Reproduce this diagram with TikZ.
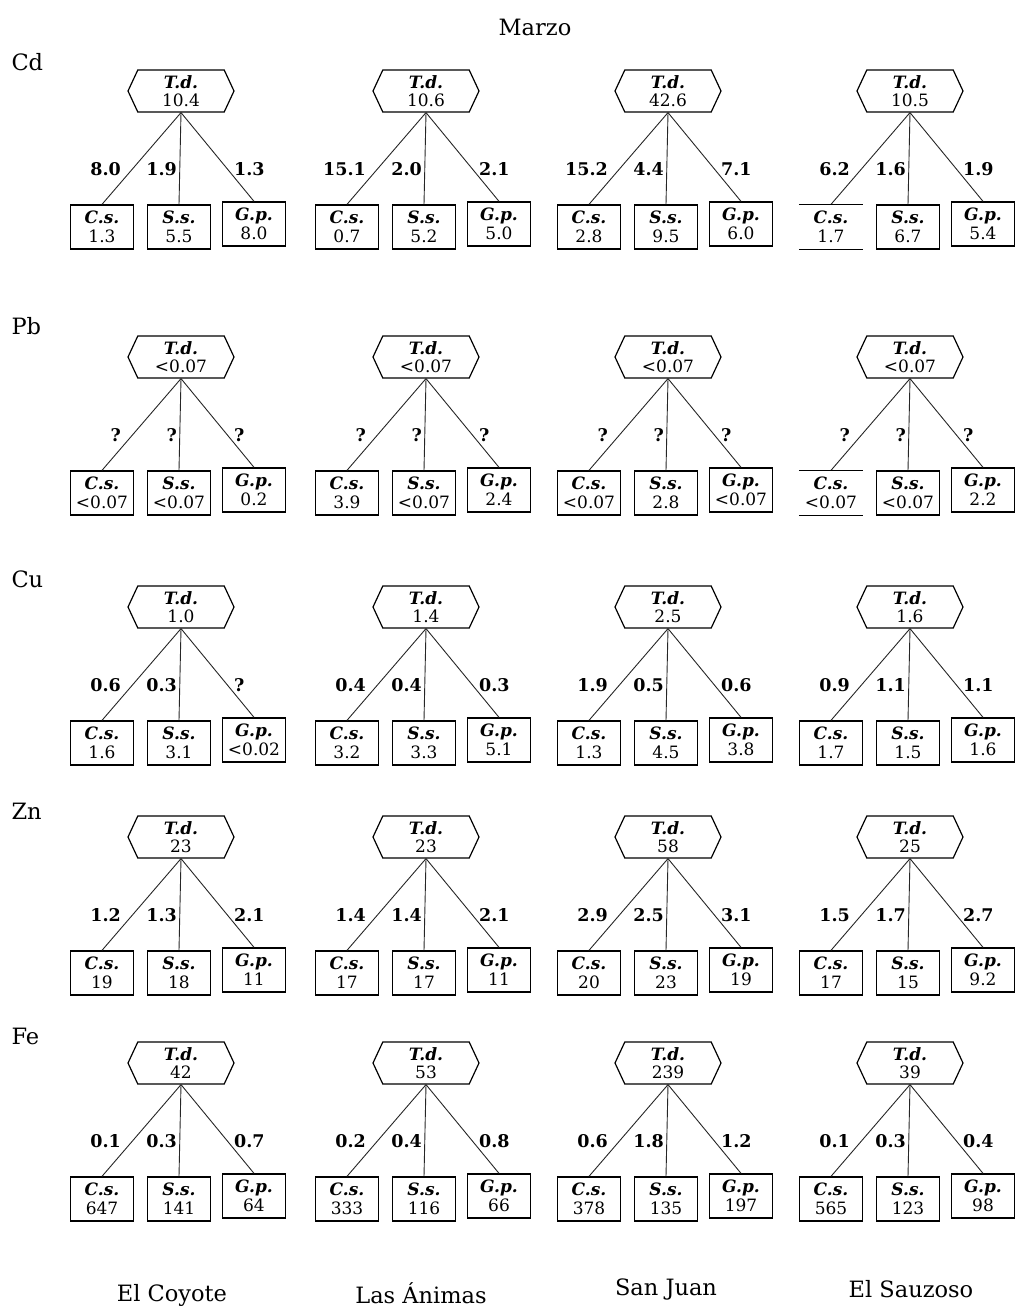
\documentclass[tikz,border=0pt]{standalone}
\usepackage{fontspec}
\setmainfont{DejaVu Serif}
\usetikzlibrary{shapes.symbols}
\tikzset{
  hexa/.style={signal, signal to=west and east, signal pointer angle=130, draw, line width=1.2pt,
    minimum width=106pt, minimum height=42pt, inner sep=0pt, align=center,
    font=\fontsize{17}{18.5}\selectfont},
  cbox/.style={draw, rectangle, line width=1.3pt, minimum width=63pt, minimum height=44pt,
    inner sep=0pt, align=center, font=\fontsize{17}{19}\selectfont},
  csbox/.style={cbox},
  conn/.style={draw=black!85, line width=0.9pt},
  elab/.style={inner sep=0pt, font=\bfseries\fontsize{17.5}{19}\selectfont},
  big/.style={font=\fontsize{22.5}{26}\selectfont},
  boxline/.style={line width=1.3pt},
}
\newcommand\lbl[1]{\textbf{\textit{#1}}}
\newcommand\mkcell[9]{%
  \begin{scope}[shift={(#2)}]
    \node[hexa] (#1-td) at (0,0) {\lbl{T.d.}\\#3};
    \node[csbox] (#1-cs) at (-79,136) {\lbl{C.s.}\\#4};
    \node[cbox] (#1-ss) at (-2,136) {\lbl{S.s.}\\#5};
    \node[cbox] (#1-gp) at (73,133) {\lbl{G.p.}\\#6};
    \draw[conn] (#1-td.south) -- (#1-cs.north);
    \draw[conn] (#1-td.south) -- (#1-ss.north);
    \draw[conn] (#1-td.south) -- (#1-gp.north);
    \node[elab, anchor=east] (#1-la) at (-60,78) {#7};
    \node[elab, anchor=east] (#1-lb) at (-4,78) {#8};
    \node[elab, anchor=west] (#1-lc) at (53,78) {#9};
  \end{scope}}
\begin{document}
\begin{tikzpicture}[x=1pt,y=-1pt]
\useasboundingbox (0,0) rectangle (1016,1307);
\node[big] (title) at (535,27) {Marzo};
\node[big, anchor=west] (rCd) at (8,62) {Cd};
\node[big, anchor=west] (rPb) at (8,326) {Pb};
\node[big, anchor=west] (rCu) at (8,579) {Cu};
\node[big, anchor=west] (rZn) at (8,811) {Zn};
\node[big, anchor=west] (rFe) at (8,1036) {Fe};

% Cd
\mkcell{CdA}{181,91}{10.4}{1.3}{5.5}{8.0}{8.0}{1.9}{1.3}
\mkcell{CdB}{426,91}{10.6}{0.7}{5.2}{5.0}{15.1}{2.0}{2.1}
\mkcell{CdC}{668,91}{42.6}{2.8}{9.5}{6.0}{15.2}{4.4}{7.1}
\begin{scope}[csbox/.style={cbox, draw=none}]
\mkcell{CdD}{910,91}{10.5}{1.7}{6.7}{5.4}{6.2}{1.6}{1.9}
\end{scope}
\draw[boxline] (CdD-cs.north west) -- (CdD-cs.north east);
\draw[boxline] (CdD-cs.south west) -- (CdD-cs.south east);

% Pb
\mkcell{PbA}{181,357}{<0.07}{<0.07}{<0.07}{0.2}{?}{?}{?}
\mkcell{PbB}{426,357}{<0.07}{3.9}{<0.07}{2.4}{?}{?}{?}
\mkcell{PbC}{668,357}{<0.07}{<0.07}{2.8}{<0.07}{?}{?}{?}
\begin{scope}[csbox/.style={cbox, draw=none}]
\mkcell{PbD}{910,357}{<0.07}{<0.07}{<0.07}{2.2}{?}{?}{?}
\end{scope}
\draw[boxline] (PbD-cs.north west) -- (PbD-cs.north east);
\draw[boxline] (PbD-cs.south west) -- (PbD-cs.south east);

% Cu
\mkcell{CuA}{181,607}{1.0}{1.6}{3.1}{<0.02}{0.6}{0.3}{?}
\mkcell{CuB}{426,607}{1.4}{3.2}{3.3}{5.1}{0.4}{0.4}{0.3}
\mkcell{CuC}{668,607}{2.5}{1.3}{4.5}{3.8}{1.9}{0.5}{0.6}
\mkcell{CuD}{910,607}{1.6}{1.7}{1.5}{1.6}{0.9}{1.1}{1.1}

% Zn
\mkcell{ZnA}{181,837}{23}{19}{18}{11}{1.2}{1.3}{2.1}
\mkcell{ZnB}{426,837}{23}{17}{17}{11}{1.4}{1.4}{2.1}
\mkcell{ZnC}{668,837}{58}{20}{23}{19}{2.9}{2.5}{3.1}
\mkcell{ZnD}{910,837}{25}{17}{15}{9.2}{1.5}{1.7}{2.7}

% Fe
\mkcell{FeA}{181,1063}{42}{647}{141}{64}{0.1}{0.3}{0.7}
\mkcell{FeB}{426,1063}{53}{333}{116}{66}{0.2}{0.4}{0.8}
\mkcell{FeC}{668,1063}{239}{378}{135}{197}{0.6}{1.8}{1.2}
\mkcell{FeD}{910,1063}{39}{565}{123}{98}{0.1}{0.3}{0.4}

\node[big] (sA) at (172,1295) {El Coyote};
\node[big] (sB) at (421,1293) {Las Ánimas};
\node[big] (sC) at (666,1289) {San Juan};
\node[big] (sD) at (911,1289) {El Sauzoso};
\end{tikzpicture}
\end{document}
